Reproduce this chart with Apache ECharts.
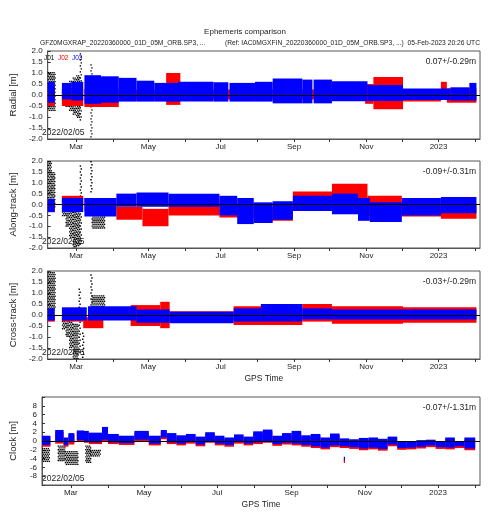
<!DOCTYPE html>
<html>
<head>
<meta charset="utf-8">
<script src="https://cdn.jsdelivr.net/npm/echarts@6/dist/echarts.min.js"></script>
<style>
  html, body { margin: 0; padding: 0; background: #fff; }
  #chart { width: 490px; height: 520px; }
</style>
</head>
<body>
<div id="chart"></div>
<script>
  // time spans are [startDay, endDay, low, high], days counted from startDate
  var startDate = '2022-02-05'
  var endDay = 365
  var monthTicks = ['2022-03-01', '2022-04-01', '2022-05-01', '2022-06-01', '2022-07-01', '2022-08-01',
    '2022-09-01', '2022-10-01', '2022-11-01', '2022-12-01', '2023-01-01', '2023-02-01']
  var labelMonths = ['2022-03-01', '2022-05-01', '2022-07-01', '2022-09-01', '2022-11-01', '2023-01-01']
  var monthLabels = ['Mar', 'May', 'Jul', 'Sep', 'Nov', '2023']
  var satNames = ['J01', 'J02', 'J03']
  var panelNames = ['Radial [m]', 'Along-track [m]', 'Cross-track [m]', 'Clock [m]']
  var panelStats = ['0.07+/-0.29m', '-0.09+/-0.31m', '-0.03+/-0.29m', '-0.07+/-1.31m']

  var radialJ01 = [[0, 6, -0.7, 1.05], [12, 15, -0.4, 0.3], [15, 18, -0.55, 0.5], [18, 21, -0.7, 0.65],
    [21, 24, -0.85, 0.8], [24, 27, -1.0, 0.9], [27, 28, -1.2, 1.9], [36, 37, -1.95, 1.4]]
  var radialJ02 = [[0, 6, -0.5, 0.3], [12, 30, -0.5, 0.25], [31, 60, -0.55, 0.3], [60, 100, -0.25, 0.25],
    [100, 112, -0.45, 1.0], [112, 268, -0.2, 0.25], [268, 275, -0.4, 0.5], [275, 300, -0.65, 0.82],
    [300, 332, -0.3, 0.2], [332, 337, -0.1, 0.6], [337, 362, -0.35, 0.3]]
  var radialJ03 = [[0, 6, -0.35, 0.6], [12, 20, -0.2, 0.55], [20, 30, -0.25, 0.6], [31, 45, -0.4, 0.9],
    [45, 60, -0.35, 0.85], [60, 75, -0.3, 0.78], [75, 90, -0.3, 0.65], [90, 110, -0.3, 0.55],
    [110, 140, -0.3, 0.6], [140, 152.5, -0.3, 0.58], [153.5, 175, -0.3, 0.55], [175, 190, -0.3, 0.6],
    [190, 215, -0.38, 0.75], [215, 223.5, -0.38, 0.7], [224.5, 240, -0.38, 0.7], [240, 270, -0.28, 0.62],
    [270, 300, -0.27, 0.45], [300, 340, -0.23, 0.3], [340, 356, -0.25, 0.35], [356, 362, -0.25, 0.55]]

  var alongJ01 = [[0, 3, 0.2, 2.0], [3, 6, -0.1, 1.5], [12, 15, -0.5, 0.35], [15, 18, -1.0, 0.2],
    [18, 21, -1.5, 0.1], [21, 24, -2.0, 0.0], [24, 27, -1.9, -0.2], [27, 28, -1.8, 1.8],
    [36, 37, 0.5, 2.0], [37, 48, -1.1, -0.3]]
  var alongJ02 = [[0, 6, -0.35, 0.1], [12, 30, 0.0, 0.4], [31, 58, -0.3, 0.3], [58, 80, -0.7, -0.1],
    [80, 102, -1.0, -0.2], [102, 145, -0.5, 0.2], [145, 174, -0.6, 0.0], [174, 207, -0.75, -0.1],
    [207, 240, -0.15, 0.6], [240, 270, 0.0, 0.95], [270, 299, -0.5, 0.4], [299, 332, -0.55, -0.05],
    [332, 362, -0.65, 0.0]]
  var alongJ03 = [[0, 6, -0.35, 0.25], [12, 30, -0.35, 0.3], [31, 58, -0.55, 0.3], [58, 75, -0.1, 0.5],
    [75, 102, -0.1, 0.55], [102, 145, -0.1, 0.5], [145, 160, -0.5, 0.4], [160, 174, -0.9, 0.3],
    [174, 190, -0.85, 0.1], [190, 207, -0.7, 0.15], [207, 240, -0.3, 0.4], [240, 262, -0.45, 0.5],
    [262, 272, -0.75, 0.3], [272, 299, -0.8, 0.1], [299, 332, -0.5, 0.3], [332, 362, -0.4, 0.35]]

  var crossJ01 = [[0, 6, 0.3, 1.95], [12, 15, -0.6, -0.1], [15, 18, -1.0, -0.2], [18, 21, -1.5, -0.3],
    [21, 25, -2.0, -0.4], [26, 27, -1.7, 1.2], [29, 30, -1.9, -0.8], [36, 37, 0.3, 1.85], [37, 48, 0.15, 0.9]]
  var crossJ02 = [[0, 6, -0.3, 0.0], [12, 30, -0.3, -0.1], [30, 47, -0.6, -0.1], [47, 70, -0.15, 0.1],
    [70, 95, -0.5, 0.45], [95, 103, -0.6, 0.6], [103, 157, -0.25, 0.17], [157, 215, -0.45, 0.4],
    [215, 240, -0.3, 0.5], [240, 300, -0.4, 0.4], [300, 362, -0.35, 0.35]]
  var crossJ03 = [[0, 6, -0.25, 0.3], [12, 33, -0.25, 0.35], [34, 75, -0.25, 0.4], [75, 103, -0.35, 0.25],
    [103, 157, -0.38, 0.15], [157, 180, -0.3, 0.3], [180, 215, -0.3, 0.5], [215, 240, -0.2, 0.3],
    [240, 300, -0.2, 0.25], [300, 362, -0.2, 0.25]]

  var clockJ01 = [[0, 6, -4.8, -1.6], [13, 19, -4.3, -1.0], [19, 30, -5.4, -2.3], [36, 40, -4.7, -1.0],
    [40, 48, -3.5, -2.0]]
  var clockJ02 = [[0, 7, -1.3, 0.8], [11, 18, -0.6, 2.1], [18, 22, -1.3, 0.4], [22, 27, -0.8, 1.4],
    [29, 35, -0.2, 2.0], [35, 39, -0.4, 1.9], [39, 50, -0.7, 1.5], [50, 55, -0.1, 2.8], [55, 64, -0.7, 1.2],
    [64, 77, -0.9, 0.8], [77, 89, -0.1, 1.9], [89, 99, -1.0, 0.8], [99, 104, 0.4, 2.1], [104, 112, -0.7, 1.4],
    [112, 120, -1.0, 0.9], [120, 128, -0.6, 1.2], [128, 136, -1.2, 0.6], [136, 144, -0.4, 1.6],
    [144, 152, -1.0, 0.8], [152, 160, -1.3, 0.4], [160, 168, -0.6, 1.1], [168, 176, -1.0, 0.6],
    [176, 184, -0.7, 1.8], [184, 192, -0.4, 2.2], [192, 200, -1.1, 0.8], [200, 208, -0.8, 1.4],
    [208, 216, -1.0, 1.9], [216, 224, -1.3, 0.9], [224, 232, -1.6, 1.2], [232, 240, -1.9, 0.4],
    [240, 248, -1.4, 1.3], [248, 256, -1.6, 0.2], [251.5, 252.5, -5.0, -4.2], [256, 264, -1.8, 0.0],
    [264, 272, -2.1, 0.3], [272, 280, -1.9, 0.4], [280, 288, -2.2, 0.1], [288, 296, -1.2, 0.6],
    [296, 304, -2.0, -0.6], [304, 312, -1.9, -0.5], [312, 320, -1.7, -0.2], [320, 328, -1.4, -0.1],
    [328, 336, -1.8, -0.6], [336, 344, -1.9, 0.4], [344, 352, -1.6, -0.5], [352, 361, -2.1, 0.4]]
  var clockJ03 = [[0, 7, -0.9, 1.2], [11, 18, -0.2, 2.5], [18, 22, -0.9, 0.8], [22, 27, -0.2, 1.8],
    [29, 35, 0.2, 2.4], [35, 39, 0.0, 2.3], [39, 50, -0.3, 1.9], [50, 55, 0.3, 3.2], [55, 64, -0.3, 1.6],
    [64, 77, -0.5, 1.2], [77, 89, 0.3, 2.3], [89, 99, -0.6, 1.2], [99, 104, 0.8, 2.5], [104, 112, -0.3, 1.8],
    [112, 120, -0.6, 1.3], [120, 128, -0.2, 1.6], [128, 136, -0.8, 1.0], [136, 144, 0.0, 2.0],
    [144, 152, -0.6, 1.2], [152, 160, -0.9, 0.8], [160, 168, -0.2, 1.5], [168, 176, -0.6, 1.0],
    [176, 184, -0.3, 2.2], [184, 192, 0.0, 2.6], [192, 200, -0.7, 1.2], [200, 208, -0.4, 1.8],
    [208, 216, -0.6, 2.3], [216, 224, -0.9, 1.3], [224, 232, -1.2, 1.6], [232, 240, -1.5, 0.8],
    [240, 248, -1.0, 1.7], [248, 256, -1.2, 0.6], [251.5, 252.5, -4.4, -3.6], [256, 264, -1.4, 0.4],
    [264, 272, -1.7, 0.7], [272, 280, -1.5, 0.8], [280, 288, -1.8, 0.5], [288, 296, -0.8, 1.0],
    [296, 304, -1.6, -0.2], [304, 312, -1.5, -0.1], [312, 320, -1.3, 0.2], [320, 328, -1.0, 0.3],
    [328, 336, -1.4, -0.2], [336, 344, -1.5, 0.8], [344, 352, -1.2, -0.1], [352, 361, -1.7, 0.8]]

  var panelData = [
    [radialJ01, radialJ02, radialJ03],
    [alongJ01, alongJ02, alongJ03],
    [crossJ01, crossJ02, crossJ03],
    [clockJ01, clockJ02, clockJ03]
  ]

  var satColors = ['#000000', '#ff0000', '#0000ff']
  var grids = [
    {top: 51, height: 88, min: -2, max: 2, interval: 0.5},
    {top: 161, height: 87, min: -2, max: 2, interval: 0.5},
    {top: 271, height: 88, min: -2, max: 2, interval: 0.5},
    {top: 397, height: 88, min: -10, max: 10, interval: 2}
  ]
  var font = 'Liberation Sans, Arial, sans-serif'

  function toDay (s) {
    return (Date.parse(s) - Date.parse(startDate)) / 86400000
  }
  var tickDays = monthTicks.map(toDay)
  var labelDays = labelMonths.map(toDay)

  // solid span for the dense satellites, dotted span for the scattered one
  function spanItem (color, dotted) {
    return function (params, api) {
      var p0 = api.coord([api.value(0), api.value(3)])
      var p1 = api.coord([api.value(1), api.value(2)])
      var w = Math.max(p1[0] - p0[0], 1)
      var h = Math.max(p1[1] - p0[1], 1)
      if (!dotted) {
        return {type: 'rect', shape: {x: p0[0], y: p0[1], width: w, height: h}, style: {fill: color}}
      }
      var narrow = w < 2.5
      var stepY = narrow ? 3 : 1.8
      var stepX = 1.9
      var kids = []
      var row = 0
      for (var y = p0[1]; y < p0[1] + h; y += stepY) {
        for (var x = p0[0] + (row % 2) * 0.9; x < p0[0] + w; x += stepX) {
          kids.push({type: 'rect', shape: {x: x, y: y, width: 1.4, height: 1.4}, style: {fill: color}})
        }
        row++
      }
      return {type: 'group', children: kids}
    }
  }

  var option = {
    animation: false,
    textStyle: {fontFamily: font},
    grid: [],
    xAxis: [],
    yAxis: [],
    series: [],
    graphic: []
  }

  grids.forEach(function (g, i) {
    option.grid.push({
      left: 40, right: 10, top: g.top, height: g.height,
      show: true, borderColor: '#555', borderWidth: 1
    })
    option.xAxis.push({
      type: 'value', gridIndex: i, min: 0, max: endDay,
      axisLine: {show: true, onZero: false, lineStyle: {color: '#555'}},
      axisTick: {show: true, customValues: tickDays, length: 3, lineStyle: {color: '#333'}},
      axisLabel: {
        customValues: labelDays, fontSize: 8, margin: 4, color: '#222',
        formatter: function (v) {
          for (var k = 0; k < labelDays.length; k++) {
            if (Math.abs(labelDays[k] - v) < 0.5) return monthLabels[k]
          }
          return ''
        }
      },
      splitLine: {show: false},
      name: i >= 2 ? 'GPS Time' : '',
      nameLocation: 'middle', nameGap: 15,
      nameTextStyle: {fontSize: 8.5, color: '#222'}
    })
    option.yAxis.push({
      type: 'value', gridIndex: i, min: g.min, max: g.max, interval: g.interval,
      axisLine: {show: true, lineStyle: {color: '#555'}},
      axisTick: {show: true, inside: true, length: 3, lineStyle: {color: '#333'}},
      axisLabel: {
        fontSize: 8, color: '#222', margin: 5,
        formatter: function (v) {
          if (g.max === 10) return Math.abs(v) === 10 ? '' : String(v)
          return v.toFixed(1)
        }
      },
      splitLine: {show: false},
      name: panelNames[i], nameLocation: 'middle', nameGap: 24,
      nameTextStyle: {fontSize: 9.5, color: '#222'}
    })
    panelData[i].forEach(function (d, s) {
      var ser = {
        type: 'custom', name: satNames[s], xAxisIndex: i, yAxisIndex: i,
        clip: true, silent: true,
        encode: {x: [0, 1], y: [2, 3]},
        renderItem: spanItem(satColors[s], s === 0),
        data: d
      }
      if (s === 2) {
        ser.markLine = {
          silent: true, symbol: 'none', label: {show: false},
          lineStyle: {color: '#000', width: 1, type: 'solid'},
          data: [{yAxis: 0}]
        }
      }
      option.series.push(ser)
    })
    option.graphic.push({
      type: 'text', left: 42, top: g.top + g.height - 11,
      style: {text: '2022/02/05', fontSize: 8.5, fill: '#222', fontFamily: font}
    })
    option.graphic.push({
      type: 'text', right: 14, top: g.top + 6,
      style: {text: panelStats[i], fontSize: 8.5, fill: '#222', fontFamily: font}
    })
  })

  option.graphic.push(
    {type: 'text', left: 'center', top: 28, style: {text: 'Ephemeris comparison', fontSize: 8, fill: '#222', fontFamily: font}},
    {type: 'text', left: 40, top: 40, style: {text: 'GFZ0MGXRAP_20220360000_01D_05M_ORB.SP3, ...', fontSize: 6.7, fill: '#222', fontFamily: font}},
    {type: 'text', left: 225, top: 40, style: {text: '(Ref: IAC0MGXFIN_20220360000_01D_05M_ORB.SP3, ...)', fontSize: 6.7, fill: '#222', fontFamily: font}},
    {type: 'text', right: 10, top: 40, style: {text: '05-Feb-2023 20:26 UTC', fontSize: 6.7, fill: '#222', fontFamily: font}},
    {type: 'text', left: 44, top: 55, style: {text: satNames[0], fontSize: 6.5, fill: satColors[0], fontFamily: font}},
    {type: 'text', left: 58, top: 55, style: {text: satNames[1], fontSize: 6.5, fill: satColors[1], fontFamily: font}},
    {type: 'text', left: 72, top: 55, style: {text: satNames[2], fontSize: 6.5, fill: satColors[2], fontFamily: font}}
  )

  var myChart = echarts.init(document.getElementById('chart'))
  myChart.setOption(option)
</script>
</body>
</html>
